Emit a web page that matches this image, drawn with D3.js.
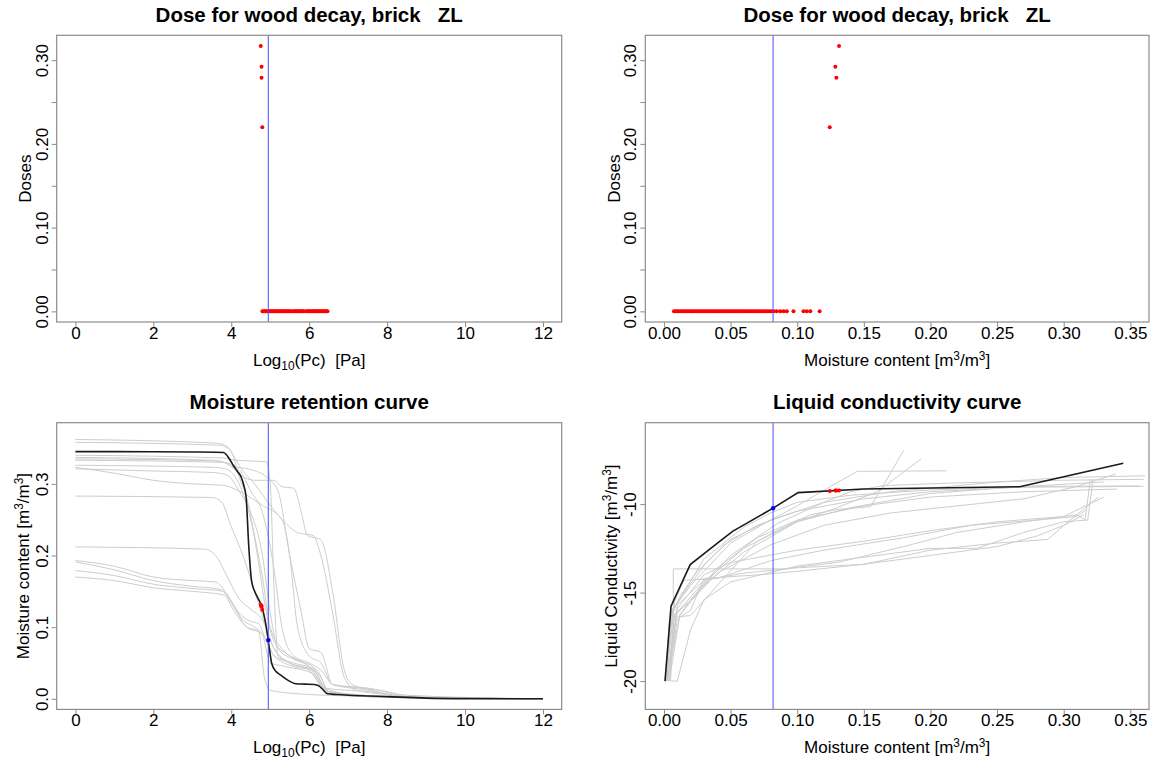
<!DOCTYPE html>
<html><head><meta charset="utf-8">
<script src="https://cdn.jsdelivr.net/npm/d3@7"></script>
<style>
body{margin:0;background:#fff}
svg{display:block}
text{font-family:"Liberation Sans",Arial,Helvetica,sans-serif;white-space:pre}
</style>
</head><body><svg id="c" width="1158" height="764"></svg>
<script>
// ---------------- DATA ----------------
const titleDose = "Dose for wood decay, brick   ZL";
const titleRetention = "Moisture retention curve";
const titleConductivity = "Liquid conductivity curve";

// doses > 0 : capillary pressure (log10 Pa), moisture content, dose
const highDoses = [0.317, 0.292, 0.279, 0.220];
const highDosePc = [4.757, 4.777, 4.777, 4.796];
const highDoseMoisture = [0.1314, 0.1286, 0.1294, 0.1244];

// zero doses
const zeroDosePc = [4.80,4.83,4.86,4.89,4.92,4.95,4.98,5.01,5.04,5.07,5.10,5.13,5.16,5.19,5.22,5.25,5.28,5.31,5.34,5.37,5.40,5.43,5.46,5.49,5.52,5.57,5.60,5.63,5.66,5.69,5.72,5.75,5.78,5.81,5.84,5.87,5.93,5.96,5.99,6.02,6.05,6.08,6.11,6.14,6.17,6.20,6.23,6.26,6.29,6.32,6.35,6.38,6.41,6.44,6.47];
const zeroDoseMoisture = [0.0075,0.0088,0.0100,0.0113,0.0126,0.0139,0.0152,0.0165,0.0178,0.0191,0.0204,0.0217,0.0230,0.0243,0.0256,0.0269,0.0282,0.0295,0.0308,0.0321,0.0334,0.0347,0.0360,0.0373,0.0386,0.0399,0.0412,0.0425,0.0438,0.0451,0.0464,0.0477,0.0490,0.0503,0.0516,0.0529,0.0542,0.0555,0.0568,0.0581,0.0594,0.0607,0.0620,0.0634,0.0648,0.0662,0.0676,0.0690,0.0705,0.0720,0.0735,0.0750,0.0765,0.0780,0.0795,0.0810,0.0825,0.0847,0.0873,0.0898,0.0922,0.0972,0.1047,0.1072,0.1098,0.1168];

// current state (blue)
const currentPc = 4.95;
const currentMoisture = 0.0819;

// main material retention curve (black)
const retentionBlackPc = [0,1,2,3,3.6,3.8,3.95,4.05,4.15,4.25,4.32,4.38,4.45,4.52,4.6,4.68,4.79,4.88,4.95,5.04,5.15,5.28,5.45,5.66,5.9,6.13,6.25,6.35,6.47,6.7,7,7.5,8,9,10,12];
const retentionBlackMC = [0.345,0.345,0.3448,0.3445,0.3442,0.3438,0.335,0.326,0.318,0.31,0.298,0.282,0.212,0.165,0.15,0.141,0.128,0.106,0.081,0.049,0.038,0.0326,0.026,0.021,0.0205,0.020,0.018,0.013,0.007,0.006,0.005,0.004,0.003,0.001,0.0003,0];

// other materials retention curves (grey): [log10 Pc, moisture]
const retentionGrey = [
 [[0,0.362],[3.6,0.357],[3.9,0.352],[4.1,0.335],[4.3,0.318],[4.6,0.30],[5.0,0.27],[5.4,0.245],[5.7,0.232],[6.1,0.228],[6.3,0.20],[6.6,0.12],[6.9,0.03],[7.2,0.012],[8,0.006],[9,0.001],[12,0]],
 [[0,0.358],[3.7,0.354],[4.0,0.345],[4.2,0.31],[4.4,0.28],[4.7,0.19],[4.9,0.12],[5.1,0.08],[5.5,0.06],[6.0,0.045],[6.3,0.03],[6.5,0.01],[7,0.005],[9,0.001],[12,0]],
 [[0,0.340],[3.8,0.336],[4.1,0.333],[4.9,0.331],[5.0,0.30],[5.1,0.15],[5.2,0.06],[5.5,0.05],[6.0,0.04],[6.4,0.012],[7,0.005],[9,0.001],[12,0]],
 [[0,0.337],[3.5,0.333],[3.9,0.328],[4.3,0.31],[4.6,0.305],[5.1,0.305],[5.3,0.296],[5.6,0.294],[5.8,0.26],[5.95,0.228],[6.3,0.222],[6.6,0.15],[6.9,0.04],[7.1,0.02],[7.6,0.012],[8.5,0.003],[12,0]],
 [[0,0.333],[3.8,0.33],[4.2,0.32],[4.5,0.29],[4.8,0.26],[5.1,0.18],[5.3,0.1],[5.6,0.06],[6.0,0.05],[6.3,0.04],[6.6,0.02],[7.5,0.012],[8.5,0.002],[12,0]],
 [[0,0.326],[3.6,0.323],[3.9,0.32],[4.2,0.30],[4.5,0.25],[4.8,0.17],[5.0,0.1],[5.3,0.07],[6.0,0.045],[6.5,0.01],[8,0.003],[12,0]],
 [[0,0.323],[1,0.315],[2,0.305],[3,0.30],[3.8,0.298],[4.2,0.29],[4.8,0.27],[5.3,0.25],[5.5,0.2],[5.7,0.1],[6.0,0.06],[6.3,0.05],[6.6,0.02],[7.3,0.015],[7.7,0.013],[8.5,0.005],[12,0]],
 [[0,0.321],[2,0.318],[3.5,0.316],[3.9,0.312],[4.2,0.29],[4.5,0.26],[4.8,0.2],[5.0,0.12],[5.2,0.07],[5.6,0.055],[6.1,0.045],[6.4,0.015],[7,0.007],[9,0.001],[12,0]],
 [[0,0.335],[3.7,0.332],[4.0,0.325],[4.5,0.32],[4.9,0.31],[5.2,0.29],[5.5,0.2],[5.8,0.12],[6.0,0.07],[6.3,0.065],[6.6,0.02],[7.5,0.015],[8.6,0.003],[12,0]],
 [[0,0.283],[3.5,0.281],[3.75,0.275],[4.0,0.24],[4.3,0.2],[4.6,0.15],[4.9,0.1],[5.1,0.07],[5.5,0.05],[6.0,0.04],[6.4,0.015],[7.5,0.01],[8.8,0.001],[12,0]],
 [[0,0.212],[3.3,0.209],[3.6,0.2],[3.9,0.17],[4.2,0.14],[4.5,0.125],[4.8,0.11],[5.1,0.07],[5.5,0.05],[6.1,0.04],[6.5,0.01],[8,0.003],[12,0]],
 [[0,0.193],[1,0.185],[2,0.17],[3,0.165],[3.6,0.163],[3.9,0.145],[4.2,0.12],[4.5,0.108],[4.7,0.105],[4.9,0.08],[5.1,0.06],[5.6,0.045],[6.1,0.04],[6.5,0.008],[8,0.002],[12,0]],
 [[0,0.191],[1,0.18],[2,0.165],[3,0.157],[3.7,0.153],[4.0,0.135],[4.3,0.11],[4.6,0.1],[4.8,0.09],[5.0,0.05],[5.4,0.045],[6.1,0.035],[6.5,0.008],[8,0.002],[12,0]],
 [[0,0.179],[1,0.172],[2,0.16],[3,0.154],[3.8,0.15],[4.1,0.125],[4.4,0.1],[4.7,0.095],[4.85,0.03],[5.0,0.012],[5.5,0.008],[7,0.004],[12,0]],
 [[0,0.170],[1,0.165],[2,0.155],[3,0.15],[3.8,0.145],[4.1,0.12],[4.4,0.1],[4.8,0.09],[5.1,0.06],[5.6,0.05],[6.2,0.04],[6.5,0.01],[8,0.003],[12,0]]
];

// main material liquid conductivity (black)
const condBlackMC = [0.0008,0.0053,0.0197,0.0418,0.0515,0.0819,0.1007,0.1497,0.267,0.3447];
const condBlackLog = [-20,-15.77,-13.42,-12.11,-11.54,-10.23,-9.35,-9.15,-9.02,-7.69];

// other materials conductivity (grey): [moisture, log conductivity]
const condGrey = [
 [[0.001,-20],[0.004,-16.6],[0.012,-15.2],[0.025,-13.8],[0.045,-12.3],[0.07,-11.2],[0.1,-10.4],[0.15,-9.7],[0.2,-9.3],[0.28,-9.0],[0.357,-8.97]],
 [[0.002,-20],[0.006,-16.1],[0.016,-14.9],[0.032,-13.3],[0.05,-12.0],[0.08,-10.9],[0.12,-9.9],[0.17,-9.3],[0.25,-8.75],[0.3,-8.5],[0.361,-8.4]],
 [[0.003,-20],[0.008,-16.3],[0.02,-15.4],[0.04,-13.6],[0.07,-11.9],[0.1,-10.9],[0.15,-10.1],[0.2,-9.6],[0.27,-9.3],[0.34,-9.15]],
 [[0.001,-20],[0.007,-15.9],[0.02,-14.6],[0.05,-12.2],[0.08,-10.9],[0.1,-10.1],[0.125,-9.0],[0.145,-8.15],[0.212,-8.12]],
 [[0.002,-20],[0.01,-16.1],[0.03,-14.4],[0.06,-12.5],[0.09,-11.3],[0.11,-10.6],[0.13,-10.3],[0.155,-10.15],[0.165,-8.9],[0.18,-6.95]],
 [[0.004,-20],[0.012,-16.2],[0.03,-14.6],[0.06,-12.7],[0.1,-11.0],[0.13,-10.2],[0.16,-9.3],[0.193,-7.45]],
 [[0.005,-20],[0.007,-16.4],[0.007,-13.66],[0.09,-13.66],[0.13,-13.3],[0.18,-12.4],[0.22,-11.6],[0.27,-11.0],[0.31,-10.6],[0.316,-10.9],[0.32,-8.6]],
 [[0.003,-20],[0.01,-16.5],[0.02,-16.0],[0.03,-14.2],[0.07,-14.0],[0.1,-13.8],[0.15,-13.4],[0.2,-12.6],[0.25,-12.2],[0.288,-12.0],[0.3,-11.2],[0.326,-9.6]],
 [[0.005,-20],[0.01,-20],[0.02,-17.1],[0.03,-15.4],[0.05,-14.4],[0.1,-13.5],[0.2,-12.5],[0.235,-12.5],[0.27,-11.6],[0.3,-11.0],[0.318,-10.9],[0.322,-8.6]],
 [[0.002,-20],[0.01,-15.9],[0.03,-14.0],[0.05,-13.3],[0.1,-12.6],[0.15,-12.1],[0.2,-11.5],[0.25,-11.0],[0.3,-10.7],[0.33,-9.6]],
 [[0.003,-20],[0.008,-16.2],[0.02,-15.5],[0.04,-13.9],[0.08,-12.3],[0.12,-11.2],[0.17,-10.5],[0.22,-10.1],[0.27,-9.7],[0.31,-9.0],[0.339,-8.3]],
 [[0.004,-20],[0.01,-15.7],[0.03,-14.3],[0.06,-13.9],[0.1,-13.6],[0.15,-13.4],[0.2,-12.9],[0.25,-12.4],[0.28,-11.8],[0.3,-11.2],[0.315,-10.6]],
 [[0.001,-20],[0.005,-16.4],[0.02,-16.3],[0.04,-14.6],[0.07,-12.1],[0.1,-11.0],[0.14,-10.2],[0.2,-9.4],[0.26,-9.05],[0.33,-8.75]],
 [[0.002,-20],[0.012,-16.3],[0.025,-15.0],[0.05,-12.9],[0.085,-11.1],[0.12,-9.9],[0.14,-9.3],[0.165,-8.95],[0.22,-8.8],[0.3,-8.65],[0.36,-8.6]],
 [[0.002,-20],[0.008,-15.5],[0.015,-14.3],[0.04,-14.2],[0.08,-13.2],[0.12,-12.6],[0.18,-11.9],[0.23,-11.2],[0.28,-10.9],[0.31,-10.7],[0.317,-10.3]],
 [[0.001,-20],[0.006,-16.0],[0.014,-15.1],[0.03,-13.1],[0.06,-11.3],[0.08,-10.5],[0.1,-9.9],[0.14,-9.5],[0.2,-9.2],[0.26,-9.05],[0.36,-9.0]]
];

// ticks
const pcTicks = [0,2,4,6,8,10,12];
const mcTicks = [0,0.05,0.10,0.15,0.20,0.25,0.30,0.35];
const doseTicks = [0,0.05,0.10,0.15,0.20,0.25,0.30];
const doseLabelTicks = [0,0.10,0.20,0.30];
const retTicks = [0,0.1,0.2,0.3];
const condTicks = [-20,-15,-10];

// ---------------- DRAWING ----------------
const svg = d3.select("#c");
svg.append("rect").attr("width",1158).attr("height",764).attr("fill","#fff");
const BOX = "#8c8c8c", GREY = "#cdcdcd", BLUE = "#4d4dff", RED = "#ff0000";
const FS = 17, TFS = 20.5;

function interp(xs, ys, v){
  for(let i=0;i<xs.length-1;i++){
    if(v>=xs[i] && v<=xs[i+1]){ const t=(v-xs[i])/(xs[i+1]-xs[i]); return ys[i]+t*(ys[i+1]-ys[i]); }
  }
  return ys[ys.length-1];
}

function addLabel(sel, parts){
  // parts: [text, mode] mode: 'n','sub','sup'
  let shift = 0;
  parts.forEach(([t,m])=>{
    const target = m==='sub'?4:(m==='sup'?-6:0);
    sel.append("tspan").attr("dy", target-shift).attr("font-size", m==='n'?FS:FS*0.7).text(t);
    shift = target;
  });
}

let clipId = 0;
function panel(cfg){
  const x = d3.scaleLinear().domain(cfg.xDomain).range([cfg.left, cfg.right]);
  const y = d3.scaleLinear().domain(cfg.yDomain).range([cfg.bottom, cfg.top]);
  const g = svg.append("g");
  const id = "clip"+(clipId++);
  g.append("clipPath").attr("id",id).append("rect")
    .attr("x",cfg.left).attr("y",cfg.top).attr("width",cfg.right-cfg.left).attr("height",cfg.bottom-cfg.top);
  const plot = g.append("g").attr("clip-path",`url(#${id})`);

  // x axis
  const xa = g.append("g").attr("transform",`translate(0,${cfg.bottom})`)
    .call(d3.axisBottom(x).tickValues(cfg.xTicks).tickFormat(cfg.xFmt).tickSize(5));
  xa.select(".domain").remove();
  xa.selectAll(".tick line").attr("stroke",BOX);
  xa.selectAll("text").attr("y",16.5).attr("dy",0).attr("font-size",FS).attr("fill","#000")
    .attr("font-family",'"Liberation Sans",Arial,sans-serif');

  // y axis
  const ya = g.append("g").attr("transform",`translate(${cfg.left},0)`)
    .call(d3.axisLeft(y).tickValues(cfg.yTicks).tickFormat(d=>cfg.yLabelTicks.some(v=>Math.abs(v-d)<1e-9)?cfg.yFmt(d):"").tickSize(5));
  ya.select(".domain").remove();
  ya.selectAll(".tick line").attr("stroke",BOX);
  ya.selectAll("text").attr("transform","rotate(-90)").attr("x",0).attr("y",-9).attr("dy",0)
    .attr("text-anchor","middle").attr("font-size",FS).attr("fill","#000")
    .attr("font-family",'"Liberation Sans",Arial,sans-serif');

  // box
  g.append("rect").attr("x",cfg.left).attr("y",cfg.top).attr("width",cfg.right-cfg.left)
    .attr("height",cfg.bottom-cfg.top).attr("fill","none").attr("stroke",BOX).attr("stroke-width",1.2);

  const cx = (cfg.left+cfg.right)/2, cy=(cfg.top+cfg.bottom)/2;
  g.append("text").attr("x",cx).attr("y",cfg.top-13.3).attr("text-anchor","middle")
    .attr("font-size",TFS).attr("font-weight","bold").text(cfg.title);
  addLabel(g.append("text").attr("x",cx).attr("y",cfg.bottom+44).attr("text-anchor","middle").attr("font-size",FS), cfg.xLabel);
  addLabel(g.append("text").attr("transform",`translate(${cfg.left-cfg.yTitleOff},${cy}) rotate(-90)`).attr("text-anchor","middle").attr("font-size",FS), cfg.yLabel);
  return {plot,x,y,g,cfg};
}

const pcLabel = [["Log","n"],["10","sub"],["(Pc)  [Pa]","n"]];
const mcLabel = [["Moisture content [m","n"],["3","sup"],["/m","n"],["3","sup"],["]","n"]];
const L = {l:56.7, r:561.7}, R = {l:645.3, r:1149}, T = {t:35.3, b:322}, B = {t:422.7, b:709.4};
const pcDomain = [-0.48, 12.48];
const mcDomain = [-0.014, 0.364];
const doseDomain = [-0.0127, 0.3297];
const f2 = d3.format(".2f"), f1 = d3.format(".1f"), f0 = d=>String(d);

// Panel 1
const p1 = panel({left:L.l,right:L.r,top:T.t,bottom:T.b,xDomain:pcDomain,yDomain:doseDomain,title:titleDose,
  xTicks:pcTicks,xFmt:f0,yTicks:doseTicks,yLabelTicks:doseLabelTicks,yFmt:f2,xLabel:pcLabel,yLabel:[["Doses","n"]],yTitleOff:25.5});
p1.plot.selectAll("circle.z").data(zeroDosePc).join("circle").attr("cx",d=>p1.x(d)).attr("cy",p1.y(0)).attr("r",2).attr("fill",RED);
p1.plot.selectAll("circle.h").data(highDosePc).join("circle").attr("cx",d=>p1.x(d)).attr("cy",(d,i)=>p1.y(highDoses[i])).attr("r",2).attr("fill",RED);
p1.plot.append("line").attr("x1",p1.x(currentPc)).attr("x2",p1.x(currentPc)).attr("y1",T.t).attr("y2",T.b).attr("stroke",BLUE).attr("stroke-width",1);

// Panel 2
const p2 = panel({left:R.l,right:R.r,top:T.t,bottom:T.b,xDomain:mcDomain,yDomain:doseDomain,title:titleDose,
  xTicks:mcTicks,xFmt:f2,yTicks:doseTicks,yLabelTicks:doseLabelTicks,yFmt:f2,xLabel:mcLabel,yLabel:[["Doses","n"]],yTitleOff:25.5});
p2.plot.append("g").selectAll("circle").data(zeroDoseMoisture).join("circle").attr("cx",d=>p2.x(d)).attr("cy",p2.y(0)).attr("r",2).attr("fill",RED);
p2.plot.append("g").selectAll("circle").data(highDoseMoisture).join("circle").attr("cx",d=>p2.x(d)).attr("cy",(d,i)=>p2.y(highDoses[i])).attr("r",2).attr("fill",RED);
p2.plot.append("line").attr("x1",p2.x(currentMoisture)).attr("x2",p2.x(currentMoisture)).attr("y1",T.t).attr("y2",T.b).attr("stroke",BLUE).attr("stroke-width",1);

// Panel 3
const p3 = panel({left:L.l,right:L.r,top:B.t,bottom:B.b,xDomain:pcDomain,yDomain:[-0.0148,0.3854],title:titleRetention,
  xTicks:pcTicks,xFmt:f0,yTicks:retTicks,yLabelTicks:retTicks,yFmt:f1,xLabel:pcLabel,yLabel:mcLabel,yTitleOff:28});
const line3 = d3.line().x(d=>p3.x(d[0])).y(d=>p3.y(d[1])).curve(d3.curveMonotoneX);
p3.plot.append("g").selectAll("path").data(retentionGrey).join("path").attr("d",line3).attr("fill","none").attr("stroke",GREY).attr("stroke-width",1);
p3.plot.append("path").attr("d",line3(retentionBlackPc.map((v,i)=>[v,retentionBlackMC[i]]))).attr("fill","none").attr("stroke","#1a1a1a").attr("stroke-width",1.6);
p3.plot.append("line").attr("x1",p3.x(currentPc)).attr("x2",p3.x(currentPc)).attr("y1",B.t).attr("y2",B.b).attr("stroke",BLUE).attr("stroke-width",1);
p3.plot.append("g").selectAll("circle").data(highDosePc).join("circle").attr("cx",d=>p3.x(d)).attr("cy",(d,i)=>p3.y(highDoseMoisture[i])).attr("r",2).attr("fill",RED);
p3.plot.append("circle").attr("cx",p3.x(currentPc)).attr("cy",p3.y(currentMoisture)).attr("r",2.2).attr("fill","#0000ff");

// Panel 4
const p4 = panel({left:R.l,right:R.r,top:B.t,bottom:B.b,xDomain:mcDomain,yDomain:[-21.6,-5.4],title:titleConductivity,
  xTicks:mcTicks,xFmt:f2,yTicks:condTicks,yLabelTicks:condTicks,yFmt:f0,xLabel:mcLabel,
  yLabel:[["Liquid Conductivity [m","n"],["3","sup"],["/m","n"],["3","sup"],["]","n"]],yTitleOff:28});
const line4 = d3.line().x(d=>p4.x(d[0])).y(d=>p4.y(d[1]));
p4.plot.append("g").selectAll("path").data(condGrey).join("path").attr("d",line4).attr("fill","none").attr("stroke",GREY).attr("stroke-width",1);
p4.plot.append("path").attr("d",line4(condBlackMC.map((v,i)=>[v,condBlackLog[i]]))).attr("fill","none").attr("stroke","#1a1a1a").attr("stroke-width",1.6);
p4.plot.append("line").attr("x1",p4.x(currentMoisture)).attr("x2",p4.x(currentMoisture)).attr("y1",B.t).attr("y2",B.b).attr("stroke",BLUE).attr("stroke-width",1);
p4.plot.append("g").selectAll("circle").data(highDoseMoisture).join("circle").attr("cx",d=>p4.x(d)).attr("cy",d=>p4.y(interp(condBlackMC,condBlackLog,d))).attr("r",2).attr("fill",RED);
p4.plot.append("circle").attr("cx",p4.x(currentMoisture)).attr("cy",p4.y(interp(condBlackMC,condBlackLog,currentMoisture))).attr("r",2.2).attr("fill","#0000ff");
</script></body></html>
